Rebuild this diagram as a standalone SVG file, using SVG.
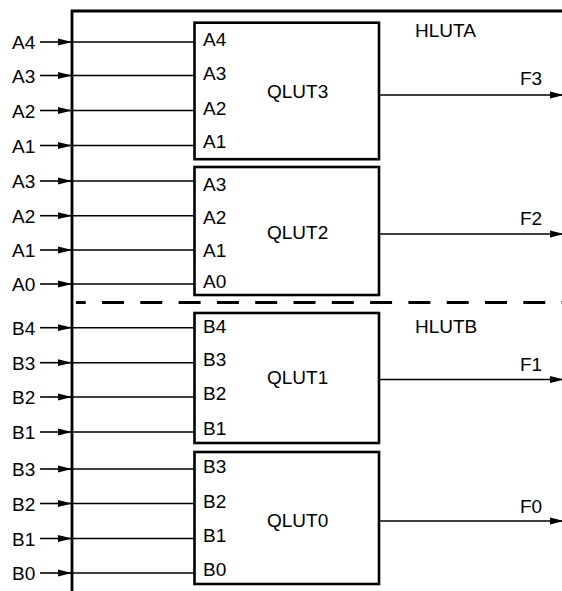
<svg xmlns="http://www.w3.org/2000/svg" width="562" height="591" viewBox="0 0 562 591">
<style>
text{font-family:"Liberation Sans",Arial,sans-serif;font-size:19px;fill:#000}
.box{fill:#fff;stroke:#000;stroke-width:2.6}
.frame{fill:none;stroke:#000;stroke-width:2.8}
.w{fill:none;stroke:#000;stroke-width:1.6}
.dash{fill:none;stroke:#000;stroke-width:3;stroke-dasharray:22 16.3;stroke-dashoffset:12.3}
</style>
<defs>
<marker id="arr" markerUnits="userSpaceOnUse" markerWidth="14" markerHeight="8" refX="14" refY="4" orient="auto" viewBox="0 0 14 8">
<path d="M0,0.6 L14,4 L0,7.4 z" fill="#000"/>
</marker>
</defs>
<g id="frame">
<path class="frame" d="M72,591 V11 H562"/>
<path class="dash" d="M76,302.5 H562"/>
<text x="415" y="36.5">HLUTA</text>
<text x="415" y="333">HLUTB</text>
</g>
<g id="connectors">
<g class="w">
<path d="M40,42 H72" marker-end="url(#arr)"/><path d="M72,42 H194"/>
<path d="M40,75.5 H72" marker-end="url(#arr)"/><path d="M72,75.5 H194"/>
<path d="M40,110.5 H72" marker-end="url(#arr)"/><path d="M72,110.5 H194"/>
<path d="M40,145.5 H72" marker-end="url(#arr)"/><path d="M72,145.5 H194"/>
<path d="M40,181 H72" marker-end="url(#arr)"/><path d="M72,181 H194"/>
<path d="M40,215.7 H72" marker-end="url(#arr)"/><path d="M72,215.7 H194"/>
<path d="M40,250 H72" marker-end="url(#arr)"/><path d="M72,250 H194"/>
<path d="M40,284 H72" marker-end="url(#arr)"/><path d="M72,284 H194"/>
<path d="M40,327.7 H72" marker-end="url(#arr)"/><path d="M72,327.7 H194"/>
<path d="M40,362.7 H72" marker-end="url(#arr)"/><path d="M72,362.7 H194"/>
<path d="M40,397 H72" marker-end="url(#arr)"/><path d="M72,397 H194"/>
<path d="M40,432 H72" marker-end="url(#arr)"/><path d="M72,432 H194"/>
<path d="M40,469 H72" marker-end="url(#arr)"/><path d="M72,469 H194"/>
<path d="M40,503.5 H72" marker-end="url(#arr)"/><path d="M72,503.5 H194"/>
<path d="M40,538.5 H72" marker-end="url(#arr)"/><path d="M72,538.5 H194"/>
<path d="M40,573 H72" marker-end="url(#arr)"/><path d="M72,573 H194"/>
<path d="M380,95 H564" marker-end="url(#arr)"/>
<path d="M380,234 H564" marker-end="url(#arr)"/>
<path d="M380,379.5 H564" marker-end="url(#arr)"/>
<path d="M380,521 H564" marker-end="url(#arr)"/>
</g>
<text x="12" y="49">A4</text>
<text x="12" y="82.5">A3</text>
<text x="12" y="117.5">A2</text>
<text x="12" y="152.5">A1</text>
<text x="12" y="188">A3</text>
<text x="12" y="222.7">A2</text>
<text x="12" y="257">A1</text>
<text x="12" y="291">A0</text>
<text x="12" y="334.7">B4</text>
<text x="12" y="369.7">B3</text>
<text x="12" y="404">B2</text>
<text x="12" y="439">B1</text>
<text x="12" y="476">B3</text>
<text x="12" y="510.5">B2</text>
<text x="12" y="545.5">B1</text>
<text x="12" y="580">B0</text>
<text x="520" y="85">F3</text>
<text x="520" y="225">F2</text>
<text x="520" y="371">F1</text>
<text x="520" y="513">F0</text>
</g>
<g id="qlut3">
<rect class="box" x="194.5" y="22.7" width="184.5" height="136.5"/>
<text x="203" y="46">A4</text>
<text x="203" y="80">A3</text>
<text x="203" y="115">A2</text>
<text x="203" y="148">A1</text>
<text x="267" y="97.5">QLUT3</text>
</g>
<g id="qlut2">
<rect class="box" x="194.5" y="167" width="184.5" height="128"/>
<text x="203" y="191">A3</text>
<text x="203" y="224">A2</text>
<text x="203" y="257">A1</text>
<text x="203" y="288">A0</text>
<text x="267" y="239">QLUT2</text>
</g>
<g id="qlut1">
<rect class="box" x="194.5" y="313" width="184.5" height="130"/>
<text x="203" y="333">B4</text>
<text x="203" y="366">B3</text>
<text x="203" y="400">B2</text>
<text x="203" y="435">B1</text>
<text x="267" y="384">QLUT1</text>
</g>
<g id="qlut0">
<rect class="box" x="194.5" y="452" width="184.5" height="132"/>
<text x="203" y="473">B3</text>
<text x="203" y="508">B2</text>
<text x="203" y="541.5">B1</text>
<text x="203" y="576">B0</text>
<text x="267" y="526.5">QLUT0</text>
</g>
</svg>
